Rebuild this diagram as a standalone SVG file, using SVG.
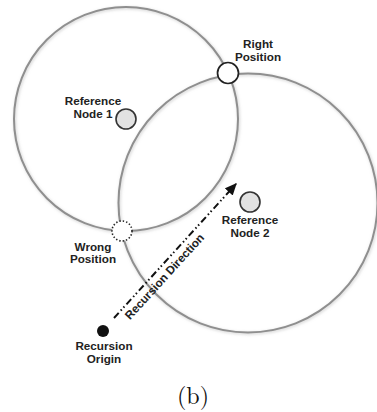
<svg xmlns="http://www.w3.org/2000/svg" width="377" height="412" viewBox="0 0 377 412">
  <style>
    .range { fill: none; stroke: #8f8f8f; stroke-width: 2; filter: url(#soft); }
    .ref { fill: #e2e2e2; stroke: #333; stroke-width: 1.6; }
    .right { fill: #fff; stroke: #222; stroke-width: 1.7; }
    .wrong { fill: #fff; stroke: #222; stroke-width: 1.6; stroke-dasharray: 1.4 2; }
    .lbl { font-family: "Liberation Sans", Arial, sans-serif; font-weight: bold; font-size: 11.7px; fill: #222; text-anchor: middle; }
    .cap { font-family: "Latin Modern Roman", "Liberation Serif", serif; font-size: 24px; fill: #111; text-anchor: middle; }
  </style>
  <defs>
    <filter id="soft" x="-10%" y="-10%" width="120%" height="120%">
      <feDropShadow dx="0.8" dy="1" stdDeviation="1.4" flood-color="#a0a0a0" flood-opacity="0.55"/>
    </filter>
    <marker id="head" viewBox="0 0 10 10" refX="9" refY="5" markerWidth="6" markerHeight="6" orient="auto" markerUnits="strokeWidth">
      <path d="M0,0.5 L10,5 L0,9.5 Z" fill="#111"/>
    </marker>
  </defs>

  <rect width="377" height="412" fill="#fff"/>

  <!-- range circles around the two reference nodes -->
  <g id="ranges">
    <circle class="range" cx="126" cy="119" r="112"/>
    <circle class="range" cx="248" cy="203" r="129.5"/>
  </g>

  <!-- connectors -->
  <g id="connectors">
    <line x1="114" y1="318" x2="236" y2="184" stroke="#111" stroke-width="2" stroke-dasharray="7 3 1.5 2.5 1.5 3" marker-end="url(#head)"/>
    <text class="lbl" transform="translate(164.5 276.5) rotate(-47.7)" y="4">Recursion Direction</text>
  </g>

  <g id="ref1">
    <circle class="ref" cx="126" cy="119" r="10"/>
    <text class="lbl" x="93" y="105">Reference</text>
    <text class="lbl" x="93" y="118">Node 1</text>
  </g>

  <g id="ref2">
    <circle class="ref" cx="250" cy="202" r="10"/>
    <text class="lbl" x="250" y="224">Reference</text>
    <text class="lbl" x="250" y="237">Node 2</text>
  </g>

  <g id="right-position">
    <circle class="right" cx="228" cy="73" r="10.5"/>
    <text class="lbl" x="258" y="48">Right</text>
    <text class="lbl" x="258" y="61">Position</text>
  </g>

  <g id="wrong-position">
    <circle class="wrong" cx="122" cy="231" r="10"/>
    <text class="lbl" x="93" y="251">Wrong</text>
    <text class="lbl" x="93" y="263">Position</text>
  </g>

  <g id="origin">
    <circle cx="103" cy="331" r="6" fill="#111"/>
    <text class="lbl" x="104" y="350">Recursion</text>
    <text class="lbl" x="104" y="363">Origin</text>
  </g>

  <text class="cap" x="193" y="404">(b)</text>
</svg>
